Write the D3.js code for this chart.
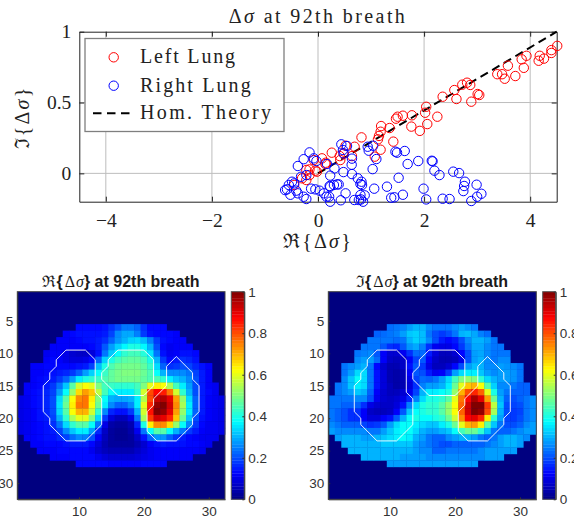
<!DOCTYPE html>
<html><head><meta charset="utf-8">
<script src="https://cdn.jsdelivr.net/npm/d3@7"></script>
<style>html,body{margin:0;padding:0;background:#fff;overflow:hidden}svg{display:block}</style>
</head><body><svg id="c" width="574" height="519"></svg>
<script>
// ---- scatter data ----
const leftRe=[4.51,4.40,4.40,4.18,4.26,4.16,3.93,3.84,3.88,3.72,3.58,3.47,3.38,3.52,3.01,3.04,2.89,2.87,2.81,2.72,2.57,2.61,2.35,2.25,2.06,2.04,2.02,1.92,1.76,1.77,1.60,1.50,1.47,1.42,1.35,1.19,1.18,1.15,1.13,1.18,1.07,.82,.69,.64,.52,.48,.42,.41,.26,.14,.145,.075,-.08,-.02,-.05,-.16,-.22,-.30,-.22,-.16,-.45];
const leftIm=[.90,.87,.85,.83,.81,.795,.83,.805,.745,.687,.76,.70,.70,.668,.56,.553,.506,.624,.64,.626,.588,.525,.541,.40,.348,.47,.428,.30,.33,.41,.407,.40,.386,.224,.32,.334,.294,.264,.24,.167,.118,.254,.188,.122,.195,.14,.094,.122,.146,.066,.075,.106,.094,.012,.019,.028,.024,-.035,-.047,-.012,-.082];
const rightRe=[-.16,-.27,-.08,-.03,-.38,.17,.31,.23,.48,.635,.64,.44,.547,.484,.47,.937,1.04,.956,1.10,1.03,.64,.75,.82,.83,.80,1.46,1.49,1.635,1.69,1.89,2.145,2.16,2.195,2.29,2.55,2.66,2.77,2.755,2.74,2.99,3.08,3.0,2.89,2.48,2.35,2.04,1.99,1.60,1.44,1.38,1.52,1.30,1.06,.88,.80,.77,.685,.85,.81,.52,.43,.23,.21,.16,.11,.03,-.05,-.13,-.22,-.27,-.38,-.41,-.52,-.585,-.62,-.55,-.49,-.45,-.32,-.22,.23,.30,.36,.39,.22];
const rightIm=[.148,.10,.106,.087,.052,.066,.035,-.016,.009,.061,.104,.205,.193,.141,.165,.188,.195,.16,.101,.03,-.005,-.035,-.059,-.082,-.075,.153,.146,.158,.066,.087,.089,.085,.019,-.012,.012,.002,-.059,-.089,-.125,-.08,-.144,-.165,-.195,-.181,-.179,-.184,-.108,-.151,-.169,-.172,-.031,-.094,-.108,-.155,-.153,-.188,-.188,-.2,-.184,-.141,-.19,-.2,-.165,-.165,-.141,-.122,-.113,-.108,-.181,-.165,-.141,-.122,-.151,-.113,-.118,-.082,-.059,-.071,-.024,-.012,-.094,-.082,-.078,-.078,-.089];
const theoryRe=[0,4.5];
const theoryIm=[0,1];
const xTicks=[-4,-2,0,2,4];
const yTicks=[0,0.5,1];
const legendLabels=["Left Lung","Right Lung","Hom. Theory"];

// ---- image data: rows 6..27, first column of each row, values in percent ----
const firstRow=6;
const rowStart=[10,8,7,6,5,5,3,3,3,2,2,1,1,1,1,1,1,2,3,4,6,10];
const reGrid=[
[13,13,13,13,14,17,20,24,24,22,17,13,13,13],
[12,13,14,14,14,14,15,19,26,29,29,25,18,14,13,13,13,12],
[12,12,12,13,14,14,15,17,22,27,30,33,34,31,25,18,14,13,12,12],
[12,12,12,12,12,12,13,15,21,28,33,37,40,40,37,30,20,13,11,12,12,12],
[11,12,12,10,8,7,7,9,14,24,32,38,42,44,44,41,35,24,14,11,12,14,14,13],
[12,13,12,10,9,9,10,13,22,33,40,44,46,47,47,45,40,30,18,13,15,17,16,14],
[12,12,13,13,13,13,13,14,15,19,31,40,45,48,49,49,49,47,43,34,22,17,18,20,19,16,14,12],
[12,12,13,14,15,16,18,22,28,33,38,43,47,49,50,50,50,48,45,38,30,26,26,26,24,19,15,12],
[12,13,14,15,18,22,28,36,40,42,43,45,47,49,49,49,49,47,45,45,42,36,32,30,26,20,15,12],
[12,12,13,15,18,24,32,46,58,62,60,50,44,43,42,42,42,44,50,60,64,62,54,44,36,28,20,15,12,11],
[12,13,14,16,19,28,38,52,66,72,68,56,44,38,36,36,36,42,58,80,87,85,76,58,42,30,20,15,13,11],
[10,11,13,14,16,20,34,46,62,74,76,64,50,38,30,29,29,30,36,55,80,93,95,90,72,52,34,22,15,12,11,10],
[10,11,13,14,16,20,35,48,64,76,76,62,48,36,26,22,22,26,36,60,84,98,100,92,74,54,36,22,15,12,11,10],
[10,11,12,14,16,20,34,46,62,70,70,58,42,26,16,14,14,18,30,58,86,100,98,90,72,52,36,22,15,12,11,10],
[10,11,12,14,15,19,30,42,54,60,60,50,34,18,9,6,6,10,24,54,82,92,90,84,68,48,32,20,14,12,11,10],
[10,11,12,13,14,17,24,34,42,46,46,38,24,10,4,3,3,5,16,40,64,74,74,66,52,38,26,18,13,11,11,10],
[10,11,12,13,14,15,19,26,32,36,36,28,16,7,3,2,2,4,11,24,38,46,46,38,30,24,18,15,12,11,11,10],
[12,12,13,14,14,16,19,23,26,25,20,12,6,3,2,2,3,7,14,22,27,27,22,18,15,13,12,11,11,11],
[12,12,13,13,13,14,15,15,15,13,9,5,3,3,3,3,5,8,12,14,15,14,14,14,13,13,12,11],
[12,12,12,13,13,13,13,13,11,8,6,5,5,5,5,7,9,11,12,12,12,12,12,12,12,11],
[12,12,12,13,13,13,13,11,9,8,8,8,8,9,10,11,12,12,12,12,12,12],
[13,13,13,13,13,12,12,12,12,12,13,13,13,13]];
const imGrid=[
[23,24,25,28,30,30,26,24,24,24,26,28,26,24],
[22,23,24,25,28,32,33,31,24,20,18,20,24,30,31,29,25,23],
[24,24,24,24,23,24,30,33,31,26,20,15,13,15,20,26,30,30,28,24],
[24,24,24,21,17,16,21,27,29,25,17,11,10,10,13,18,24,29,29,26,24,24],
[24,25,26,21,12,8,8,11,17,23,23,15,9,6,6,8,13,20,28,29,26,24,24,24],
[26,28,28,23,12,7,6,7,12,19,21,12,7,5,5,6,10,20,28,30,26,24,26,26],
[24,26,28,30,24,13,8,5,5,7,14,21,18,10,6,6,8,13,20,28,31,30,26,26,28,27,26,24],
[24,28,34,34,24,14,9,5,4,5,12,21,20,15,11,12,18,28,34,36,36,32,28,26,28,28,27,24],
[26,32,38,34,24,14,9,5,4,5,10,19,23,22,24,28,34,44,50,52,50,42,34,30,28,28,27,24],
[24,26,32,36,34,24,14,9,6,4,5,9,17,25,28,28,30,36,48,60,68,70,62,46,33,26,26,24,22,22],
[24,26,28,32,30,22,12,8,6,6,8,11,19,30,36,36,38,40,52,70,80,84,78,60,40,28,24,22,22,22],
[24,24,24,24,26,26,20,11,8,7,8,10,16,25,34,40,40,42,46,60,76,88,96,90,72,48,30,22,20,22,24,26],
[24,24,22,22,22,17,10,8,7,7,9,14,25,34,40,42,42,46,52,62,78,92,100,100,82,56,32,20,19,20,24,26],
[24,22,20,17,17,12,7,6,6,7,12,21,32,38,40,42,42,46,52,62,78,92,100,98,80,54,30,20,18,19,24,26],
[24,22,20,17,17,12,9,9,12,14,21,30,38,40,38,38,40,42,48,58,74,88,90,84,64,42,28,19,18,20,24,26],
[26,24,22,22,22,19,17,18,21,28,34,38,38,36,34,32,32,36,40,48,60,70,72,64,46,32,24,20,20,22,26,28],
[28,26,26,26,26,26,24,24,28,32,36,38,38,34,30,28,28,30,32,38,44,48,48,42,32,24,22,22,24,26,28,28],
[28,30,30,30,28,28,30,32,34,36,38,36,30,28,24,22,22,26,28,30,30,28,24,22,24,28,30,30,28,26],
[30,30,30,30,30,30,32,32,32,32,32,28,26,24,22,20,20,22,22,22,22,22,24,26,28,30,30,28],
[30,30,30,30,30,30,30,30,30,30,28,26,26,22,22,24,24,24,24,24,26,28,28,28,28,28],
[30,30,30,30,30,30,28,28,28,28,26,26,26,26,26,26,26,26,26,28,28,28],
[28,28,28,28,28,28,28,28,28,28,28,28,28,28]];
// ---- lung outlines in image coordinates ----
const outlineLeft=[[8,9.5],[11,9.5],[12.5,11],[12.5,16],[13.5,17],[13.5,21],[11,23.5],[8,23.5],[5.5,21],[5.5,20],[4.5,19],[4.5,15],[5.5,14],[5.5,13],[6.5,12],[6.5,11]];
const outlineCenter=[[16,9.5],[20,9.5],[21.5,11],[21.5,15],[20,16.5],[16,16.5],[13.5,14],[13.5,13],[14.5,12],[14.5,11]];
const outlineRight=[[25,10.5],[27.5,13],[27.5,14],[28.5,15],[28.5,19],[27.5,20],[27.5,21],[25,23.5],[22,23.5],[20.5,22],[20.5,19],[21.5,18],[21.5,17],[23.5,15],[23.5,12]];
const imgXTicks=[10,20,30];
const imgYTicks=[5,10,15,20,25,30];
const barTicks=[0,0.2,0.4,0.6,0.8,1];

const svg=d3.select("#c");
const serif="'Liberation Serif','DejaVu Serif',serif";
const sans="'Liberation Sans',Arial,sans-serif";
const x=d3.scaleLinear().domain([-4.5,4.5]).range([79.3,556.7]);
const y=d3.scaleLinear().domain([-0.2,1]).range([201.7,31.7]);

const gTop=svg.append("g");
gTop.selectAll(".gx").data(xTicks).join("line").attr("x1",d=>x(d)).attr("x2",d=>x(d)).attr("y1",y(-0.2)).attr("y2",y(1)).attr("stroke","#bdbdbd").attr("stroke-width",1);
gTop.selectAll(".gy").data(yTicks.slice(0,2)).join("line").attr("y1",d=>y(d)).attr("y2",d=>y(d)).attr("x1",x(-4.5)).attr("x2",x(4.5)).attr("stroke","#bdbdbd").attr("stroke-width",1);

function styleAxis(g,size,font,col){
  g.selectAll("text").attr("font-size",size).attr("font-family",font).attr("fill",col);
  g.selectAll("line").attr("stroke",col);
  g.select(".domain").attr("stroke",col);
}
const fmt=d=>String(d).replace("-","\u2212");
const ax=gTop.append("g").attr("transform",`translate(0,${y(-0.2)})`).call(d3.axisBottom(x).tickValues(xTicks).tickFormat(fmt).tickSizeInner(-5).tickSizeOuter(0).tickPadding(11));
styleAxis(ax,19.5,serif,"#222");
const ay=gTop.append("g").attr("transform",`translate(${x(-4.5)},0)`).call(d3.axisLeft(y).tickValues(yTicks).tickFormat(fmt).tickSizeInner(-5).tickSizeOuter(0).tickPadding(8));
styleAxis(ay,19.5,serif,"#222");
const at=gTop.append("g").attr("transform",`translate(0,${y(1)})`).call(d3.axisTop(x).tickValues(xTicks).tickFormat("").tickSizeInner(-5).tickSizeOuter(0));
styleAxis(at,18,serif,"#222");
const ar=gTop.append("g").attr("transform",`translate(${x(4.5)},0)`).call(d3.axisRight(y).tickValues(yTicks).tickFormat("").tickSizeInner(-5).tickSizeOuter(0));
styleAxis(ar,18,serif,"#222");

gTop.append("line").attr("x1",x(theoryRe[0])).attr("y1",y(theoryIm[0])).attr("x2",x(theoryRe[1])).attr("y2",y(theoryIm[1])).attr("stroke","#000").attr("stroke-width",2).attr("stroke-dasharray","8.5,5");
gTop.selectAll(".r").data(d3.range(leftRe.length)).join("circle").attr("cx",i=>x(leftRe[i])).attr("cy",i=>y(leftIm[i])).attr("r",4.7).attr("fill","none").attr("stroke","#f00").attr("stroke-width",1);
gTop.selectAll(".b").data(d3.range(rightRe.length)).join("circle").attr("cx",i=>x(rightRe[i])).attr("cy",i=>y(rightIm[i])).attr("r",4.7).attr("fill","none").attr("stroke","#00f").attr("stroke-width",1);

// labels
function sigmaText(parent,attrs,prefix,suffix,size,font,spacing){
  const t=parent.append("text").attr("font-size",size).attr("font-family",font).attr("fill","#222").attr("text-anchor","middle").attr("letter-spacing",spacing||0);
  Object.entries(attrs).forEach(([k,v])=>t.attr(k,v));
  t.append("tspan").text(prefix+"\u0394");
  t.append("tspan").attr("font-style","italic").text("\u03c3");
  t.append("tspan").text(suffix);
  return t;
}
sigmaText(svg,{x:318,y:22.5},""," at 92th breath",20,serif,2.4);
sigmaText(svg,{x:318,y:248},"\u211c{","}",20,serif,2.2);
sigmaText(svg,{transform:"translate(29,117.5) rotate(-90)"},"\u2111{","}",20,serif,2.2);

// legend
const lg=svg.append("g");
lg.append("rect").attr("x",85).attr("y",38.5).attr("width",199).attr("height",93).attr("fill","#fff").attr("stroke","#7f7f7f").attr("stroke-width",1.3);
const legY=[57.3,85.7,113.3];
const legW=[95,110.7,131];
lg.append("circle").attr("cx",113.7).attr("cy",legY[0]).attr("r",4.7).attr("fill","none").attr("stroke","#f00").attr("stroke-width",1);
lg.append("circle").attr("cx",113.7).attr("cy",legY[1]).attr("r",4.7).attr("fill","none").attr("stroke","#00f").attr("stroke-width",1);
lg.append("line").attr("x1",93).attr("x2",130).attr("y1",legY[2]).attr("y2",legY[2]).attr("stroke","#000").attr("stroke-width",2).attr("stroke-dasharray","8.5,5.5");
lg.selectAll("text").data(legendLabels).join("text").attr("x",140).attr("y",(d,i)=>legY[i]+6).attr("font-size",20).attr("font-family",serif).attr("fill","#222").attr("textLength",(d,i)=>legW[i]).attr("lengthAdjust","spacing").text(d=>d);

// heat maps
const jet=d3.scaleLinear().domain([0,.125,.375,.625,.875,1]).range(["#000080","#0000ff","#00ffff","#ffff00","#ff0000","#800000"]).clamp(true);
function heat(x0,x1,bx0,bx1,grid,glyph,titleX){
  const top=291.7,bot=499.3;
  const sx=d3.scaleLinear().domain([.5,32.5]).range([x0,x1]);
  const sy=d3.scaleLinear().domain([.5,32.5]).range([top,bot]);
  const g=svg.append("g");
  g.append("rect").attr("x",x0).attr("y",top).attr("width",x1-x0).attr("height",bot-top).attr("fill",jet(0));
  const cells=[];
  grid.forEach((row,r)=>row.forEach((v,c)=>cells.push({r:firstRow+r,c:rowStart[r]+c,v:v/100})));
  g.selectAll(".cell").data(cells).join("rect").attr("x",d=>sx(d.c-.5)).attr("y",d=>sy(d.r-.5))
    .attr("width",sx(1.5)-sx(.5)+.3).attr("height",sy(1.5)-sy(.5)+.3).attr("fill",d=>jet(d.v));
  const line=d3.line().x(d=>sx(d[0])).y(d=>sy(d[1])).curve(d3.curveLinearClosed);
  [outlineLeft,outlineCenter,outlineRight].forEach(o=>g.append("path").attr("d",line(o)).attr("fill","none").attr("stroke","#fff").attr("stroke-width",.9));
  const col="#333";
  const a1=g.append("g").attr("transform",`translate(0,${bot})`).call(d3.axisBottom(sx).tickValues(imgXTicks).tickSizeInner(-2).tickSizeOuter(0).tickPadding(7));
  styleAxis(a1,13.5,sans,col);
  const a2=g.append("g").attr("transform",`translate(${x0},0)`).call(d3.axisLeft(sy).tickValues(imgYTicks).tickSizeInner(-2).tickSizeOuter(0).tickPadding(4));
  styleAxis(a2,13.5,sans,col);
  g.append("rect").attr("x",x0).attr("y",top).attr("width",x1-x0).attr("height",bot-top).attr("fill","none").attr("stroke","#444").attr("stroke-width",1);
  // title
  const t=g.append("text").attr("x",titleX).attr("y",286.5).attr("text-anchor","middle").attr("font-family",sans).attr("font-size",16).attr("font-weight","bold").attr("fill","#1a1a1a");
  t.append("tspan").attr("font-family",serif).attr("font-weight","normal").text(glyph);
  t.append("tspan").text("{");
  t.append("tspan").attr("font-family",serif).attr("font-weight","normal").attr("dx",2).text("\u0394");
  t.append("tspan").attr("font-family",serif).attr("font-weight","normal").attr("font-style","italic").attr("dx",1).text("\u03c3");
  t.append("tspan").text("} at 92th breath");
  // colour bar
  const sb=d3.scaleLinear().domain([0,1]).range([bot,top]);
  const lev=d3.range(64);
  g.selectAll(".lev").data(lev).join("rect").attr("x",bx0).attr("width",bx1-bx0)
    .attr("y",d=>sb((d+1)/64)).attr("height",sb(0)-sb(1/64)+.3).attr("fill",d=>jet((d+.5)/64));
  g.append("rect").attr("x",bx0).attr("y",top).attr("width",bx1-bx0).attr("height",bot-top).attr("fill","none").attr("stroke","#555").attr("stroke-width",1);
  const a3=g.append("g").attr("transform",`translate(${bx1},0)`).call(d3.axisRight(sb).tickValues(barTicks).tickFormat(d=>String(d)).tickSizeInner(-2).tickSizeOuter(0).tickPadding(4));
  styleAxis(a3,13.5,sans,col);
}
heat(17.3,225,231.3,244.3,reGrid,"\u211c",121);
heat(328.3,536.3,542.7,555.7,imGrid,"\u2111",432);
</script></body></html>
